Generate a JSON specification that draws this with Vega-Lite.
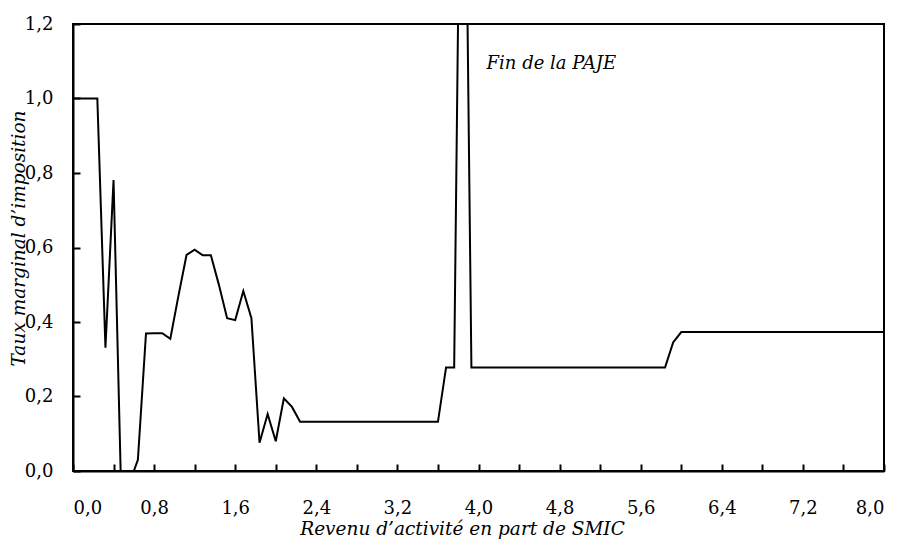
{
  "$schema": "https://vega.github.io/schema/vega-lite/v6.json",
  "width": 811,
  "height": 447,
  "autosize": {"type": "none"},
  "padding": {"left": 73, "top": 24, "right": 17, "bottom": 72},
  "background": "white",
  "config": {
    "font": "DejaVu Serif",
    "view": {"stroke": "black", "strokeWidth": 2},
    "axis": {
      "grid": false,
      "domainColor": "black",
      "domainWidth": 2,
      "tickColor": "black",
      "tickWidth": 2,
      "labelColor": "black",
      "labelFont": "DejaVu Serif",
      "labelFontSize": 18,
      "titleFont": "DejaVu Serif",
      "titleFontSize": 18.5,
      "titleFontStyle": "italic",
      "titleFontWeight": "normal",
      "titleColor": "black"
    }
  },
  "data": {
    "values": [
      {"revenu": 0.0, "taux": 1.0},
      {"revenu": 0.24, "taux": 1.0},
      {"revenu": 0.32, "taux": 0.331},
      {"revenu": 0.40, "taux": 0.781},
      {"revenu": 0.47, "taux": 0.0},
      {"revenu": 0.60, "taux": 0.0},
      {"revenu": 0.64, "taux": 0.03},
      {"revenu": 0.72, "taux": 0.369},
      {"revenu": 0.80, "taux": 0.37},
      {"revenu": 0.88, "taux": 0.37},
      {"revenu": 0.96, "taux": 0.355},
      {"revenu": 1.04, "taux": 0.47},
      {"revenu": 1.12, "taux": 0.58},
      {"revenu": 1.20, "taux": 0.594},
      {"revenu": 1.28, "taux": 0.579},
      {"revenu": 1.36, "taux": 0.579},
      {"revenu": 1.44, "taux": 0.499},
      {"revenu": 1.52, "taux": 0.41},
      {"revenu": 1.60, "taux": 0.405},
      {"revenu": 1.68, "taux": 0.483},
      {"revenu": 1.76, "taux": 0.41},
      {"revenu": 1.84, "taux": 0.076},
      {"revenu": 1.92, "taux": 0.153},
      {"revenu": 2.00, "taux": 0.08},
      {"revenu": 2.08, "taux": 0.195},
      {"revenu": 2.16, "taux": 0.172},
      {"revenu": 2.24, "taux": 0.132},
      {"revenu": 3.60, "taux": 0.132},
      {"revenu": 3.68, "taux": 0.278},
      {"revenu": 3.76, "taux": 0.278},
      {"revenu": 3.80, "taux": 1.25},
      {"revenu": 3.89, "taux": 1.25},
      {"revenu": 3.93, "taux": 0.278},
      {"revenu": 5.84, "taux": 0.278},
      {"revenu": 5.92, "taux": 0.345},
      {"revenu": 6.00, "taux": 0.373},
      {"revenu": 8.00, "taux": 0.373}
    ]
  },
  "layer": [
    {
      "mark": {"type": "line", "color": "black", "strokeWidth": 2, "clip": true},
      "encoding": {
        "x": {
          "field": "revenu",
          "type": "quantitative",
          "scale": {"domain": [0, 8], "nice": false, "zero": false},
          "axis": {
            "title": "Revenu d’activité en part de SMIC",
            "values": [0, 0.4, 0.8, 1.2, 1.6, 2.0, 2.4, 2.8, 3.2, 3.6, 4.0, 4.4, 4.8, 5.2, 5.6, 6.0, 6.4, 6.8, 7.2, 7.6, 8.0],
            "labelExpr": "round(datum.value*10) % 8 == 0 ? replace(format(datum.value, '.1f'), '.', ',') : ''",
            "tickSize": -7,
            "labelPadding": 35,
            "labelBaseline": "top",
            "labelOverlap": false,
            "titleX": 389,
            "titleY": 57,
            "titleBaseline": "middle",
            "titleAnchor": "middle",
            "titleAlign": "center"
          }
        },
        "y": {
          "field": "taux",
          "type": "quantitative",
          "scale": {"domain": [0, 1.2], "nice": false},
          "axis": {
            "title": "Taux marginal d’imposition",
            "values": [0, 0.2, 0.4, 0.6, 0.8, 1.0, 1.2],
            "labelExpr": "replace(format(datum.value, '.1f'), '.', ',')",
            "tickSize": -7,
            "labelPadding": 27,
            "titleX": -55,
            "titleY": 214,
            "titleAngle": -90,
            "titleBaseline": "middle",
            "titleAlign": "center",
            "titleAnchor": "middle"
          }
        }
      }
    },
    {
      "data": {"values": [{"revenu": 4.08, "taux": 1.093, "label": "Fin de la PAJE"}]},
      "mark": {"type": "text", "align": "left", "baseline": "middle", "font": "DejaVu Serif", "fontSize": 18, "fontStyle": "italic", "color": "black"},
      "encoding": {
        "x": {"field": "revenu", "type": "quantitative"},
        "y": {"field": "taux", "type": "quantitative"},
        "text": {"field": "label"}
      }
    }
  ]
}
